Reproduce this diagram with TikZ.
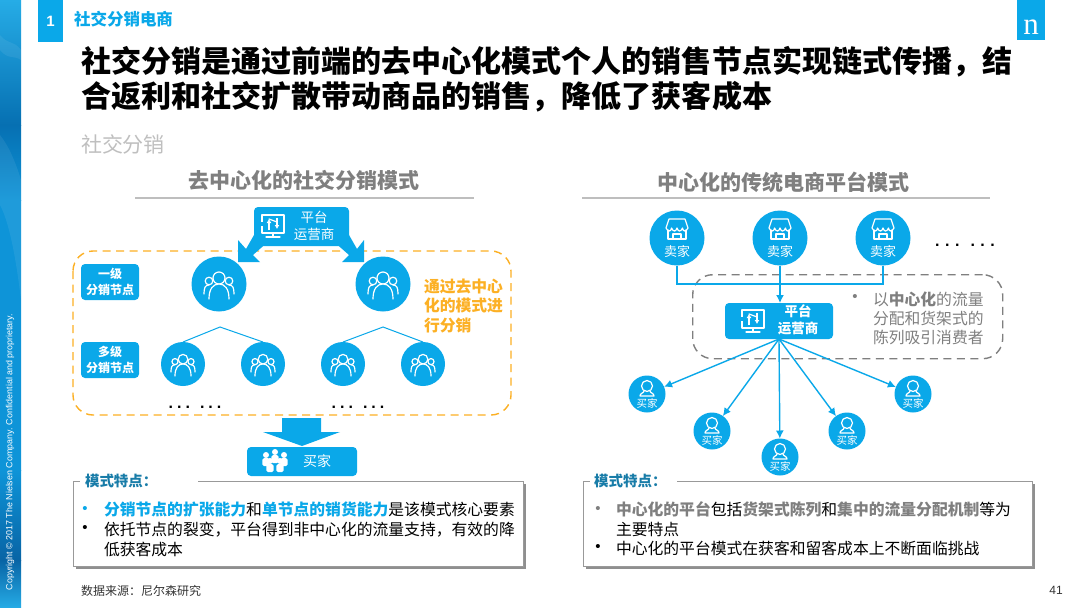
\documentclass[tikz,border=0pt]{standalone}
\usepackage{fontspec}
\setmainfont{Noto Sans CJK SC}
\newfontfamily\latinfont{Liberation Sans}
\newfontfamily\logofont{Liberation Serif}
\usepackage{xcolor}
\usetikzlibrary{arrows.meta,positioning,shadows}
\definecolor{nblue}{RGB}{10,168,233}
\definecolor{ntitle}{RGB}{24,124,168}
\definecolor{ngray}{RGB}{127,127,127}
\definecolor{nrule}{RGB}{190,190,190}
\definecolor{norange}{RGB}{252,176,36}
\definecolor{bandA}{RGB}{38,172,230}
\definecolor{bandB}{RGB}{6,112,178}
\definecolor{bandC}{RGB}{14,148,216}
\definecolor{bandD}{RGB}{8,100,165}
\newcommand{\fsz}[1]{\fontsize{#1}{#1}\selectfont}
\newcommand{\fszl}[2]{\fontsize{#1}{#2}\selectfont}
\newcommand{\dotrow}[1]{.\hspace{#1}.\hspace{#1}.}
\tikzset{
  txt/.style={inner sep=0pt,outer sep=0pt},
  blockbox/.style={
    fill=nblue,
    rounded corners=4pt,
    text=white,
    align=center,
    inner sep=0pt,
    outer sep=0pt
  },
  crowdbig/.style={circle,fill=nblue,minimum size=55pt,inner sep=0pt,outer sep=0pt},
  crowdsmall/.style={circle,fill=nblue,minimum size=44pt,inner sep=0pt,outer sep=0pt},
  buyercircle/.style={circle,fill=nblue,minimum size=37pt,inner sep=0pt,outer sep=0pt},
  headline/.style={txt,font=\fsz{21}\bfseries,text=ngray},
  rulerline/.style={draw=nrule,line width=1.3pt},
  dashframe/.style={dash pattern=on 8pt off 5.5pt,line width=1.4pt,rounded corners=20pt},
  notebox/.style={draw=black!40,fill=white,line width=1pt,
    drop shadow={shadow xshift=2.5pt,shadow yshift=-2.5pt,fill=black!55,opacity=.8}},
  notetitle/.style={txt,fill=white,anchor=west,minimum height=22pt,align=left,
    font=\fsz{14.5}\bfseries,text=ntitle},
  notetext/.style={txt,anchor=north west,align=left},
  flow/.style={-{Latex[length=8pt,width=8pt]},draw=nblue,line width=1.4pt},
  feed/.style={draw=nblue,line width=1.3pt},
  iconline/.style={draw=white,line width=1.2pt,line cap=round,line join=round},
  crowdicon/.pic={
    \draw[iconline] (-10,-3) circle (3.8);
    \draw[iconline] (10,-3) circle (3.8);
    \draw[iconline] (-15,10) .. controls (-15,4) and (-14,1) .. (-10,1);
    \draw[iconline] (15,10) .. controls (15,4) and (14,1) .. (10,1);
    \draw[iconline,fill=nblue] (0,-6) circle (6);
    \draw[iconline,fill=nblue] (-10,15) .. controls (-10,5) and (-6,0) .. (0,0) .. controls (6,0) and (10,5) .. (10,15);
  },
  screenicon/.pic={
    \draw[iconline] (-11,-10) rectangle (11,8);
    \draw[iconline] (0,8) -- (0,12);
    \draw[iconline] (-7,12) -- (7,12);
    \fill[nblue] (-13,-3) rectangle (-9,1);
    \draw[white,line width=1.2pt,-{Latex[length=4pt,width=5pt]}] (-4,5) -- (-4,-6);
    \draw[white,line width=1.2pt,-{Latex[length=4pt,width=5pt]}] (4,-7) -- (4,4);
    \draw[iconline] (-4,-6) -- (4,-3);
  },
  storeicon/.pic={
    \draw[iconline] (-8,-19) -- (8,-19) -- (11,-10)
      .. controls (9,-6) and (6,-6) .. (5.5,-10)
      .. controls (4,-6) and (1,-6) .. (0,-10)
      .. controls (-1,-6) and (-4,-6) .. (-5.5,-10)
      .. controls (-6,-6) and (-9,-6) .. (-11,-10) -- cycle;
    \draw[iconline] (-9,-8) -- (-9,1) -- (9,1) -- (9,-8);
    \draw[iconline] (-4,1) -- (-4,-4) -- (4,-4) -- (4,1);
  },
  buyericon/.pic={
    \draw[iconline] (0,-8) circle (5.5);
    \draw[iconline] (-3,-3) .. controls (-3,-1) and (-7,-1) .. (-7,2) -- (7,2) .. controls (7,-1) and (3,-1) .. (3,-3);
  },
  groupicon/.pic={
    \foreach \px/\py in {-9/-4,9/-4,0/-7,-5/2,5/2}{
      \fill[white] (\px,\py) circle (3);
      \fill[white,rounded corners=1.5pt] (\px-3.6,\py+3.2) rectangle (\px+3.6,\py+11);
    }
  }
}
\begin{document}
\begin{tikzpicture}[x=1pt,y=-1pt,node distance=48pt]
\useasboundingbox (0,0) rectangle (1080,608);
\fill[white] (0,0) rectangle (1080,608);
% side band
\shade[top color=bandA,bottom color=bandB] (0,0) rectangle (21,125);
\shade[top color=bandB,bottom color=bandC] (0,125) rectangle (21,200);
\shade[top color=bandC,bottom color=bandC] (0,200) rectangle (21,470);
\shade[top color=bandC,bottom color=bandD] (0,470) rectangle (21,560);
\shade[top color=bandD,bottom color=bandA] (0,560) rectangle (21,608);
\fill[white,opacity=.07] (0,135) .. controls (8,145) and (15,160) .. (21,180) -- (21,300) .. controls (15,250) and (8,220) .. (0,205) -- cycle;
\fill[white,opacity=.07] (0,35) .. controls (8,45) and (14,40) .. (21,50) -- (21,60) .. controls (14,55) and (8,60) .. (0,50) -- cycle;
\node[txt,rotate=90,anchor=west,text=white,font=\latinfont\fsz{8.9}] (copyright) at (10,590) {Copyright © 2017 The Nielsen Company. Confidential and proprietary.};
% header
\node[blockbox,rounded corners=0pt,minimum width=25pt,minimum height=42pt,font=\latinfont\fsz{15}\bfseries,anchor=north west] (secnum) at (38,0) {1};
\node[txt,anchor=west,font=\fsz{16.5}\bfseries,text=nblue] (sectitle) at (74,19) {社交分销电商};
\node[blockbox,rounded corners=0pt,minimum width=28pt,minimum height=40pt,anchor=north west] (logo) at (1017,0) {};
\node[txt,text=white,anchor=base,font=\logofont\fsz{31}] (logotext) at (1031,34) {n};
\node[notetext,font=\fszl{30.05}{35.5}\bfseries,text=black] (maintitle) at (81,46) {社交分销是通过前端的去中心化模式个人的销售节点实现链式传播，结\\合返利和社交扩散带动商品的销售，降低了获客成本};
\node[txt,anchor=west,font=\fsz{21},text=black!25] (subtitle) at (81,144) {社交分销};
% left model
\node[headline] (headl) at (304,180) {去中心化的社交分销模式};
\draw[rulerline] (135,198) -- (474,198);
\node[headline] (headr) at (783,182) {中心化的传统电商平台模式};
\draw[rulerline] (582,198) -- (990,198);
\draw[dashframe,draw=norange] (73,251) rectangle (511,415);
\fill[nblue] (258,228) -- (246,249) -- (238,240) -- (238,262) -- (260,262) -- (253,255) -- (270,240) -- cycle;
\fill[nblue] (345,228) -- (357,249) -- (364,240) -- (364,262) -- (342,262) -- (349,255) -- (332,240) -- cycle;
\node[blockbox,minimum width=95pt,minimum height=39pt,anchor=north west] (hubl) at (254,207) {};
\pic at (273,225) {screenicon};
\node[txt,text=white,align=center,font=\fszl{13.5}{16.5}] (hubltext) at (314,226) {平台\\运营商};
\node[crowdbig] (crowdA) at (219,284) {};
\node[crowdbig] (crowdB) at (383,284) {};
\node[crowdsmall] (smallA) at (183,364) {};
\node[crowdsmall,right=36pt of smallA] (smallB) {};
\node[crowdsmall,right=36pt of smallB] (smallC) {};
\node[crowdsmall,right=36pt of smallC] (smallD) {};
\foreach \name in {crowdA,crowdB}
  \pic at (\name) {crowdicon};
\foreach \name in {smallA,smallB,smallC,smallD}
  \pic[scale=.8] at (\name) {crowdicon};
\coordinate (forkA) at (220,327);
\coordinate (forkB) at (383,327);
\draw[feed,line width=1pt] (smallA.north) -- (forkA) -- (smallB.north);
\draw[feed,line width=1pt] (smallC.north) -- (forkB) -- (smallD.north);
\node[blockbox,minimum width=58pt,minimum height=36pt,font=\fszl{12}{16}\bfseries] (levelA) at (110,282) {一级\\分销节点};
\node[blockbox,minimum width=58pt,minimum height=36pt,font=\fszl{12}{16}\bfseries] (levelB) at (110,360) {多级\\分销节点};
\node[notetext,text=norange,font=\fszl{15.8}{19.5}\bfseries] (viatext) at (424,278.5) {通过去中心\\化的模式进\\行分销};
\node[txt,anchor=base,font=\latinfont\fsz{16}\bfseries] (dotsA) at (195,408) {\dotrow{4pt}\hspace{10pt}\dotrow{4pt}};
\node[txt,anchor=base,font=\latinfont\fsz{16}\bfseries] (dotsB) at (358,408) {\dotrow{4pt}\hspace{10pt}\dotrow{4pt}};
\fill[nblue] (282,418) -- (321,418) -- (321,432) -- (340,432) -- (302,446) -- (263,432) -- (282,432) -- cycle;
\node[blockbox,minimum width=110pt,minimum height=29pt,anchor=north west] (buyerbar) at (247,447) {};
\pic at (275,459) {groupicon};
\node[txt,text=white,font=\fsz{14}] (buyerbartext) at (317,461) {买家};
% left note
\node[notebox,minimum width=450pt,minimum height=85pt,anchor=north west] (notel) at (73,481) {};
\node[notetitle,text width=118pt] (notelhead) at (80,481) {\hspace{5pt}模式特点：};
\node[txt,text=nblue,font=\latinfont\fsz{15}] (bulA) at (85,510) {•};
\node[txt,font=\latinfont\fsz{15}] (bulB) at (85,529) {•};
\node[notetext,font=\fszl{15.8}{20}] (notelbody) at (104,502) {\textcolor{nblue}{\textbf{分销节点的扩张能力}}和\textcolor{nblue}{\textbf{单节点的销货能力}}是该模式核心要素\\依托节点的裂变，平台得到非中心化的流量支持，有效的降\\低获客成本};
% right model
\node[dashframe,draw=ngray,minimum width=310pt,minimum height=84pt,anchor=north west] (framer) at (692,274) {};
\node[crowdbig] (sellerA) at (677,238) {};
\node[crowdbig,right=of sellerA] (sellerB) {};
\node[crowdbig,right=of sellerB] (sellerC) {};
\foreach \name in {sellerA,sellerB,sellerC}{
  \pic at (\name) {storeicon};
  \node[txt,text=white,font=\fsz{13}] at ([yshift=-14pt]\name.center) {卖家};
}
\node[txt,anchor=base,font=\latinfont\fsz{16}\bfseries] (dotsC) at (965,246) {\dotrow{5.5pt}\hspace{11pt}\dotrow{5.5pt}};
\node[blockbox,minimum width=108pt,minimum height=36pt,anchor=north west] (hubr) at (725,303) {};
\pic at (753,320) {screenicon};
\node[txt,text=white,align=center,font=\fszl{13.5}{16.5}\bfseries] (hubrtext) at (798,320) {平台\\运营商};
\coordinate (merge) at (sellerB |- 0,284);
\draw[feed] (sellerA.south) |- (merge);
\draw[feed] (sellerC.south) |- (merge);
\draw[flow] (sellerB.south) -- (hubr.north -| sellerB);
\node[txt,text=ngray,font=\latinfont\fsz{15}] (bulC) at (855,298) {•};
\node[notetext,text=ngray,font=\fszl{15.8}{19}] (framertext) at (873,292) {以\textbf{中心化}的流量\\分配和货架式的\\陈列吸引消费者};
\node[buyercircle] (buyerA) at (647,394) {};
\node[buyercircle] (buyerB) at (712,431) {};
\node[buyercircle] (buyerC) at (780,457) {};
\node[buyercircle] (buyerD) at (847,431) {};
\node[buyercircle] (buyerE) at (913,394) {};
\foreach \name in {buyerA,buyerB,buyerC,buyerD,buyerE}{
  \draw[flow] (hubr.south) -- (\name);
  \pic at (\name) {buyericon};
  \node[txt,text=white,font=\fsz{10.5}] at ([yshift=-9pt]\name.center) {买家};
}
% right note
\node[notebox,minimum width=449pt,minimum height=85pt,anchor=north west] (noter) at (583,481) {};
\node[notetitle,text width=87pt] (noterhead) at (590,481) {\hspace{4pt}模式特点：};
\node[txt,text=ngray,font=\latinfont\fsz{15}] (bulD) at (598,510) {•};
\node[txt,font=\latinfont\fsz{15}] (bulE) at (598,548) {•};
\node[notetext,font=\fszl{15.8}{19.5}] (noterbody) at (616,502) {\textcolor{ngray}{\textbf{中心化的平台}}包括\textcolor{ngray}{\textbf{货架式陈列}}和\textcolor{ngray}{\textbf{集中的流量分配机制}}等为\\主要特点\\中心化的平台模式在获客和留客成本上不断面临挑战};
% footer
\node[txt,anchor=west,font=\fsz{12},text=black!80] (source) at (81,591) {数据来源：尼尔森研究};
\node[txt,font=\latinfont\fsz{12},text=black!80] (pagenum) at (1056,590) {41};
\end{tikzpicture}
\end{document}
